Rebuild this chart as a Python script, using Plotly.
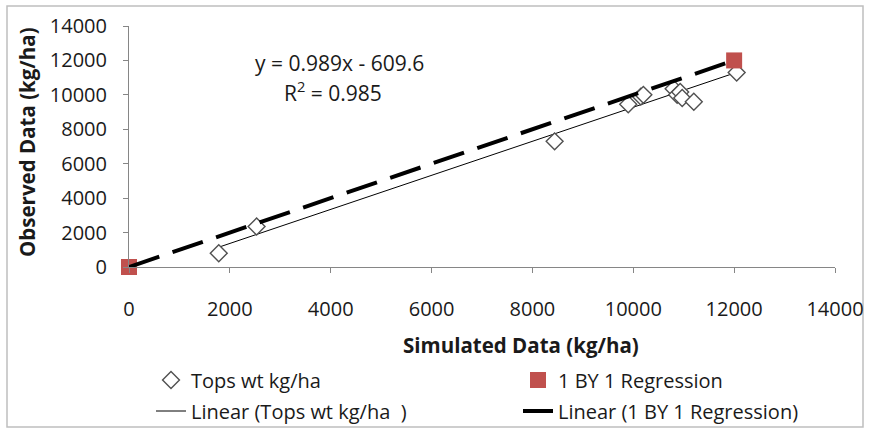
import plotly.graph_objects as go

# Simulated vs observed tops weight (kg/ha)
simulated = [1780, 2530, 8440, 9900, 10150, 10200, 10800, 10870, 10930, 10970, 11200, 12050]
observed = [800, 2350, 7300, 9450, 9900, 10000, 10350, 10000, 10170, 9820, 9600, 11300]

# 1:1 reference points
one_to_one_x = [0, 12000]
one_to_one_y = [0, 12000]

# Fitted trend line reported on the chart
slope = 0.989
intercept = -609.6
r_squared = 0.985

tick_values = [0, 2000, 4000, 6000, 8000, 10000, 12000, 14000]
tick_labels = ["0", "2000", "4000", "6000", "8000", "10000", "12000", "14000"]

FONT = "Open Sans, Noto Sans, sans-serif"
TXT = "#1a1a1a"
AXIS = "#868686"

W, H = 869, 432
L, R, T, B = 129, 34, 26, 165
pw, ph = W - L - R, H - T - B


def px_x(p):
    return (p - L) / pw


def px_y(p):
    return (H - B - p) / ph


trend_x = [min(simulated), max(simulated)]
trend_y = [slope * v + intercept for v in trend_x]

fig = go.Figure()

fig.add_trace(go.Scatter(
    x=trend_x, y=trend_y, mode="lines",
    name="Linear (Tops wt kg/ha  )",
    line=dict(color="black", width=1),
    legend="legend3",
))
fig.add_trace(go.Scatter(
    x=simulated, y=observed, mode="markers",
    name="Tops wt kg/ha",
    marker=dict(symbol="diamond", size=13, color="white",
                line=dict(color="#505050", width=1.4)),
    cliponaxis=False,
    legend="legend",
))
fig.add_trace(go.Scatter(
    x=one_to_one_x, y=one_to_one_y, mode="markers",
    name="1 BY 1 Regression",
    marker=dict(symbol="square", size=16, color="#C0504D"),
    cliponaxis=False,
    legend="legend2",
))
fig.add_trace(go.Scatter(
    x=one_to_one_x, y=one_to_one_y, mode="lines",
    name="Linear (1 BY 1 Regression)",
    line=dict(color="black", width=4, dash="32px,14px"),
    cliponaxis=False,
    legend="legend4",
))

axis_common = dict(
    range=[0, 14000], tickvals=tick_values, ticktext=tick_labels,
    showgrid=False, zeroline=False,
    showline=True, linecolor=AXIS, linewidth=1,
    ticks="outside", ticklen=5, tickcolor=AXIS, tickwidth=1,
    tickfont=dict(family=FONT, size=20, color=TXT),
)

fig.update_xaxes(**axis_common, ticklabelstandoff=19)
fig.update_yaxes(**axis_common, ticklabelstandoff=12)

legend_common = dict(
    orientation="h", xanchor="left", yanchor="middle",
    font=dict(family=FONT, size=20, color=TXT),
    bgcolor="rgba(0,0,0,0)", itemclick=False,
)


def label(text, x, y, size=20, angle=0):
    return dict(text=text, xref="paper", yref="paper", x=px_x(x), y=px_y(y),
                xanchor="center", yanchor="middle", showarrow=False,
                textangle=angle, font=dict(family=FONT, size=size, color=TXT))


fig.update_layout(
    width=W, height=H,
    margin=dict(l=L, r=R, t=T, b=B, autoexpand=False),
    paper_bgcolor="white", plot_bgcolor="white",
    showlegend=True,
    legend=dict(**legend_common, x=px_x(151), y=px_y(380)),
    legend2=dict(**legend_common, x=px_x(518), y=px_y(380)),
    legend3=dict(**legend_common, x=px_x(151), y=px_y(411)),
    legend4=dict(**legend_common, x=px_x(518), y=px_y(411)),
    annotations=[
        label("<b>Simulated Data (kg/ha)</b>", 521, 345, size=20.5),
        label("<b>Observed Data (kg/ha)</b>", 27, 142, size=20.5, angle=-90),
        label(f"y = {slope}x - {abs(intercept)}", 339, 63, size=21),
        label(f"R<sup>2</sup> = {r_squared}", 333, 91, size=21),
    ],
    shapes=[
        dict(type="rect", xref="paper", yref="paper", layer="below",
             x0=px_x(7), x1=px_x(863), y0=px_y(427), y1=px_y(6),
             line=dict(color="#bfbfbf", width=1.5)),
    ],
)

fig.write_html("out.html")
